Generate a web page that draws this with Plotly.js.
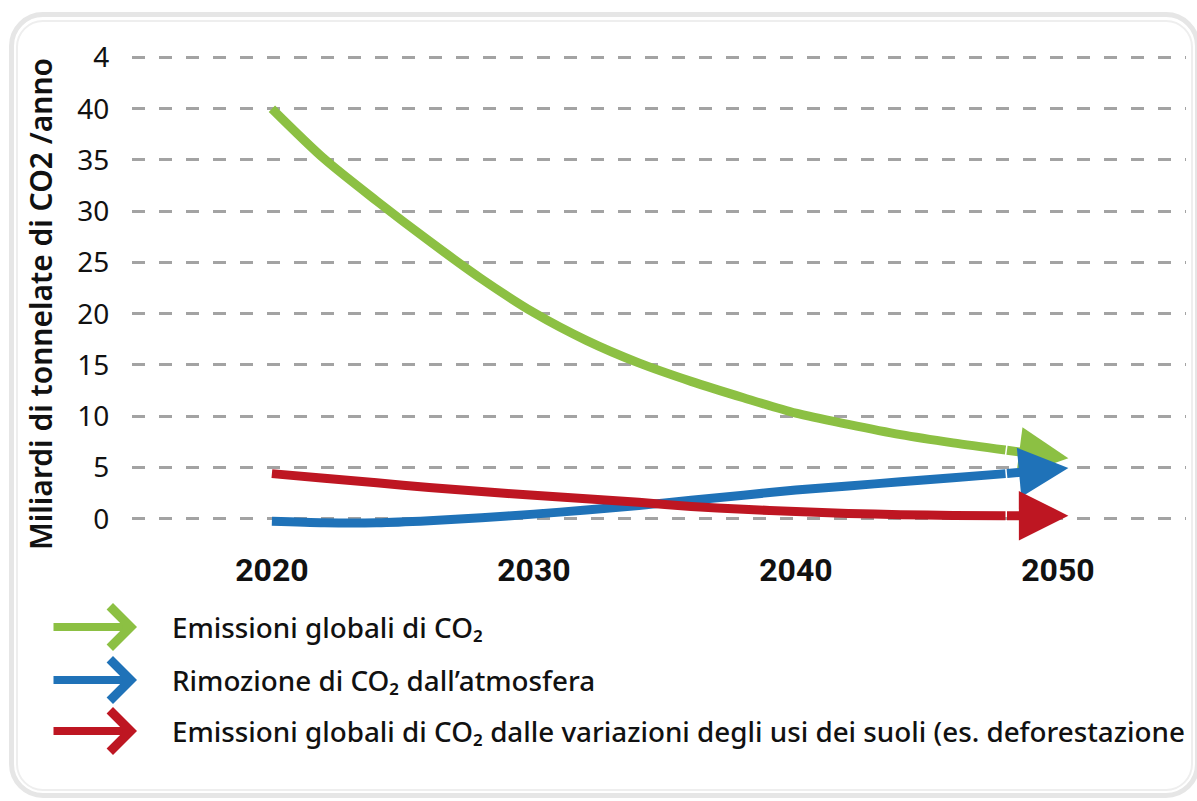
<!DOCTYPE html>
<html><head><meta charset="utf-8">
<script src="https://cdn.plot.ly/plotly-3.0.1.min.js"></script>
<style>
html,body{margin:0;padding:0;background:#fff;overflow:hidden;}
#wrap{position:relative;width:1197px;height:801px;}
#chart{position:absolute;left:0;top:0;width:1197px;height:801px;}
.frame{position:absolute;box-sizing:border-box;pointer-events:none;}
#f1{left:9px;top:12px;width:1191px;height:786px;border:5px solid #e6e6e6;border-radius:34px;}
#f2{left:16px;top:20px;width:1177px;height:771px;border:2px solid #eeeeee;border-radius:27px;}
</style></head><body>
<div id="wrap"><div id="chart"></div><div class="frame" id="f1"></div><div class="frame" id="f2"></div></div>
<script>
// ---- data ----
const years = [2020, 2022, 2024, 2026, 2028, 2030, 2032, 2034, 2036, 2038, 2040, 2042, 2044, 2046, 2048, 2050.4];
const emissioni = [40, 35.1, 31, 27.1, 23.4, 20.1, 17.4, 15.2, 13.4, 11.8, 10.3, 9.2, 8.2, 7.4, 6.7, 5.9];
const rimozione = [-0.25, -0.4, -0.4, -0.2, 0.1, 0.45, 0.85, 1.3, 1.8, 2.3, 2.8, 3.2, 3.6, 4.0, 4.4, 4.95];
const suoli = [4.4, 3.95, 3.5, 3.05, 2.65, 2.28, 1.95, 1.6, 1.2, 0.92, 0.7, 0.52, 0.4, 0.32, 0.29, 0.3];
const seriesNames = [
  'Emissioni globali di CO\u2082',
  'Rimozione di CO\u2082 dall\u2019atmosfera',
  'Emissioni globali di CO\u2082 dalle variazioni degli usi dei suoli (es. deforestazione'
];
const xTickVals = [2020, 2030, 2040, 2050];
const xTickText = ['2020', '2030', '2040', '2050'];
const yTickVals = [0, 5, 10, 15, 20, 25, 30, 35, 40, 45];
const yTickText = ['0', '5', '10', '15', '20', '25', '30', '35', '40', '4'];
const yTitle = 'Miliardi di tonnelate di CO2 /anno';

// ---- style ----
const colors = ['#8cc043', '#1f72b8', '#be1622'];
const series = [emissioni, rimozione, suoli];
const W = 1197, H = 801;
const M = {l: 132, r: 11, t: 54, b: 267};
const plotW = W - M.l - M.r, plotH = H - M.t - M.b;
const px2x = p => (p - M.l) / plotW;
const px2y = p => (H - M.b - p) / plotH;
const FONT = '"Noto Sans", "Open Sans", sans-serif';
const NUMFONT = 'Roboto, "Noto Sans", sans-serif';

const n = years.length;
const traces = series.map((vals, i) => ({
  x: years.slice(0, n - 1),
  y: vals.slice(0, n - 1),
  type: 'scatter',
  mode: 'lines',
  line: {color: colors[i], width: 9, shape: 'spline', smoothing: 0.8},
  hoverinfo: 'skip',
  showlegend: false
}));

const annotations = [];
// arrowheads at the end of each series
series.forEach((vals, i) => {
  annotations.push({
    xref: 'x', yref: 'y', axref: 'x', ayref: 'y',
    x: years[n - 1], y: vals[n - 1], ax: years[n - 2], ay: vals[n - 2],
    text: '', showarrow: true, arrowhead: 2, arrowsize: 1.1, arrowwidth: 9,
    arrowcolor: colors[i], standoff: 0
  });
});
// legend
const legendY = [627, 680, 731];
seriesNames.forEach((name, i) => {
  annotations.push({
    xref: 'paper', yref: 'paper', x: px2x(137), y: px2y(legendY[i]),
    ax: -85, ay: 0, text: '', showarrow: true, arrowhead: 4, arrowsize: 1.0,
    arrowwidth: 8, arrowcolor: colors[i], standoff: 0
  });
  annotations.push({
    xref: 'paper', yref: 'paper', x: px2x(170), y: px2y(legendY[i]),
    xanchor: 'left', yanchor: 'middle', showarrow: false, text: name,
    font: {family: FONT, size: 27.8, color: '#111111', weight: 500}
  });
});
// y title
annotations.push({
  xref: 'paper', yref: 'paper', x: px2x(40), y: px2y(304),
  xanchor: 'center', yanchor: 'middle', showarrow: false, textangle: -90,
  text: yTitle, font: {family: FONT, size: 30, color: '#111111', weight: 600}
});

const layout = {
  width: W, height: H,
  margin: M,
  paper_bgcolor: 'rgba(0,0,0,0)', plot_bgcolor: 'rgba(0,0,0,0)',
  showlegend: false,
  xaxis: {
    range: [2014.66, 2054.89], tickvals: xTickVals, ticktext: xTickText,
    showgrid: false, zeroline: false, showline: false,
    ticks: 'outside', ticklen: 8, tickcolor: 'rgba(0,0,0,0)',
    tickfont: {family: NUMFONT, size: 32, color: '#111111', weight: 'bold'}
  },
  yaxis: {
    range: [-1.49, 45.34], tickvals: yTickVals, ticktext: yTickText,
    showgrid: true, gridcolor: '#a3a3a3', gridwidth: 3, griddash: '13px,14px',
    zeroline: false, showline: false,
    ticks: 'outside', ticklen: 16, tickcolor: 'rgba(0,0,0,0)',
    tickfont: {family: FONT, size: 28, color: '#111111'}
  },
  annotations: annotations
};

Plotly.newPlot('chart', traces, layout, {staticPlot: true, displayModeBar: false});
</script>
</body></html>
